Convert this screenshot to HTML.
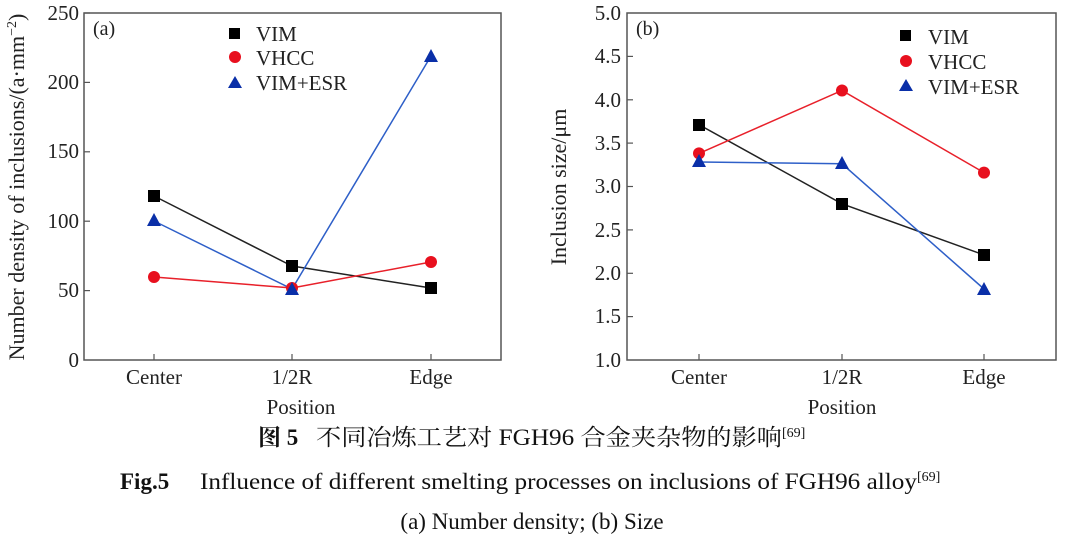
<!DOCTYPE html>
<html><head><meta charset="utf-8"><style>
html,body{margin:0;padding:0;background:#fff;}
svg{display:block;font-family:"Liberation Serif","Noto Serif CJK SC",serif;}
</style></head><body>
<svg width="1065" height="543" viewBox="0 0 1065 543" xmlns="http://www.w3.org/2000/svg">
<g fill="#222" font-size="21">
<!-- Left plot -->
<rect x="84" y="13" width="417" height="347" fill="none" stroke="#555" stroke-width="1.5"/>
<g stroke="#555" stroke-width="1.2">
<line x1="84" y1="13" x2="90" y2="13"/><line x1="84" y1="82.4" x2="90" y2="82.4"/><line x1="84" y1="151.8" x2="90" y2="151.8"/><line x1="84" y1="221.2" x2="90" y2="221.2"/><line x1="84" y1="290.6" x2="90" y2="290.6"/>
<line x1="154" y1="360" x2="154" y2="354"/><line x1="292" y1="360" x2="292" y2="354"/><line x1="431" y1="360" x2="431" y2="354"/>
</g>
<g text-anchor="end">
<text x="79" y="20">250</text><text x="79" y="89">200</text><text x="79" y="158">150</text><text x="79" y="228">100</text><text x="79" y="297">50</text><text x="79" y="367">0</text>
</g>
<g text-anchor="middle">
<text x="154" y="384">Center</text><text x="292" y="384">1/2R</text><text x="431" y="384">Edge</text>
<text x="301" y="414">Position</text>
</g>
<text transform="translate(24,187) rotate(-90)" text-anchor="middle" font-size="22">Number density of inclusions/(a·mm<tspan dy="-8" font-size="14">−2</tspan><tspan dy="8">)</tspan></text>
<text x="93" y="35" font-size="20">(a)</text>
<polyline points="154,196 292,266 431,288" fill="none" stroke="#222" stroke-width="1.5"/>
<polyline points="154,277 292,288 431,262" fill="none" stroke="#e8202a" stroke-width="1.5"/>
<polyline points="154,221 292,289 431,56" fill="none" stroke="#2e5fc8" stroke-width="1.5"/>
<rect x="148" y="190" width="12" height="12" fill="#000"/><rect x="286" y="260" width="12" height="12" fill="#000"/><rect x="425" y="282" width="12" height="12" fill="#000"/>
<circle cx="154" cy="277" r="6" fill="#e8101e"/><circle cx="292" cy="288" r="6" fill="#e8101e"/><circle cx="431" cy="262" r="6" fill="#e8101e"/>
<polygon points="154,213 161,226 147,226" fill="#0a2fa8"/><polygon points="292,282 299,295 285,295" fill="#0a2fa8"/><polygon points="431,49 438,62 424,62" fill="#0a2fa8"/>
<rect x="229" y="28" width="11" height="11" fill="#000"/><circle cx="235" cy="57" r="6" fill="#e8101e"/><polygon points="235,76 242,88 228,88" fill="#0a2fa8"/>
<text x="256" y="41">VIM</text><text x="256" y="65">VHCC</text><text x="256" y="90">VIM+ESR</text>

<!-- Right plot -->
<rect x="627" y="13" width="429" height="347" fill="none" stroke="#555" stroke-width="1.5"/>
<g stroke="#555" stroke-width="1.2">
<line x1="627" y1="56.4" x2="633" y2="56.4"/><line x1="627" y1="99.8" x2="633" y2="99.8"/><line x1="627" y1="143.1" x2="633" y2="143.1"/><line x1="627" y1="186.5" x2="633" y2="186.5"/><line x1="627" y1="229.9" x2="633" y2="229.9"/><line x1="627" y1="273.3" x2="633" y2="273.3"/><line x1="627" y1="316.6" x2="633" y2="316.6"/>
<line x1="699" y1="360" x2="699" y2="354"/><line x1="842" y1="360" x2="842" y2="354"/><line x1="984" y1="360" x2="984" y2="354"/>
</g>
<g text-anchor="end">
<text x="621" y="20">5.0</text><text x="621" y="63">4.5</text><text x="621" y="107">4.0</text><text x="621" y="150">3.5</text><text x="621" y="193">3.0</text><text x="621" y="237">2.5</text><text x="621" y="280">2.0</text><text x="621" y="323">1.5</text><text x="621" y="367">1.0</text>
</g>
<g text-anchor="middle">
<text x="699" y="384">Center</text><text x="842" y="384">1/2R</text><text x="984" y="384">Edge</text>
<text x="842" y="414">Position</text>
</g>
<text transform="translate(566,187) rotate(-90)" text-anchor="middle" font-size="22">Inclusion size/μm</text>
<text x="636" y="35" font-size="20">(b)</text>
<polyline points="699,124.7 842,203.8 984,254.9" fill="none" stroke="#222" stroke-width="1.5"/>
<polyline points="699,153.4 842,90.5 984,172.6" fill="none" stroke="#e8202a" stroke-width="1.5"/>
<polyline points="699,162 842,163.8 984,289" fill="none" stroke="#2e5fc8" stroke-width="1.5"/>
<rect x="693" y="119" width="12" height="12" fill="#000"/><rect x="836" y="198" width="12" height="12" fill="#000"/><rect x="978" y="249" width="12" height="12" fill="#000"/>
<circle cx="699" cy="153.4" r="6" fill="#e8101e"/><circle cx="842" cy="90.5" r="6" fill="#e8101e"/><circle cx="984" cy="172.6" r="6" fill="#e8101e"/>
<polygon points="699,154 706,167 692,167" fill="#0a2fa8"/><polygon points="842,156 849,169 835,169" fill="#0a2fa8"/><polygon points="984,282 991,295 977,295" fill="#0a2fa8"/>
<rect x="900" y="30" width="11" height="11" fill="#000"/><circle cx="906" cy="61" r="6" fill="#e8101e"/><polygon points="906,79 913,91 899,91" fill="#0a2fa8"/>
<text x="928" y="44">VIM</text><text x="928" y="69">VHCC</text><text x="928" y="94">VIM+ESR</text>
</g>
<!-- captions -->
<g fill="#111" font-size="23">
<text x="258" y="445"><tspan font-weight="bold">图 5</tspan><tspan x="316" textLength="466" lengthAdjust="spacingAndGlyphs">不同冶炼工艺对 FGH96 合金夹杂物的影响</tspan><tspan dy="-8" font-size="14">[69]</tspan></text>
<text x="120" y="489"><tspan font-weight="bold">Fig.5</tspan><tspan x="200" textLength="717" lengthAdjust="spacingAndGlyphs">Influence of different smelting processes on inclusions of FGH96 alloy</tspan><tspan dy="-8" font-size="14">[69]</tspan></text>
<text x="532" y="529" text-anchor="middle">(a) Number density; (b) Size</text>
</g>
</svg>
</body></html>
